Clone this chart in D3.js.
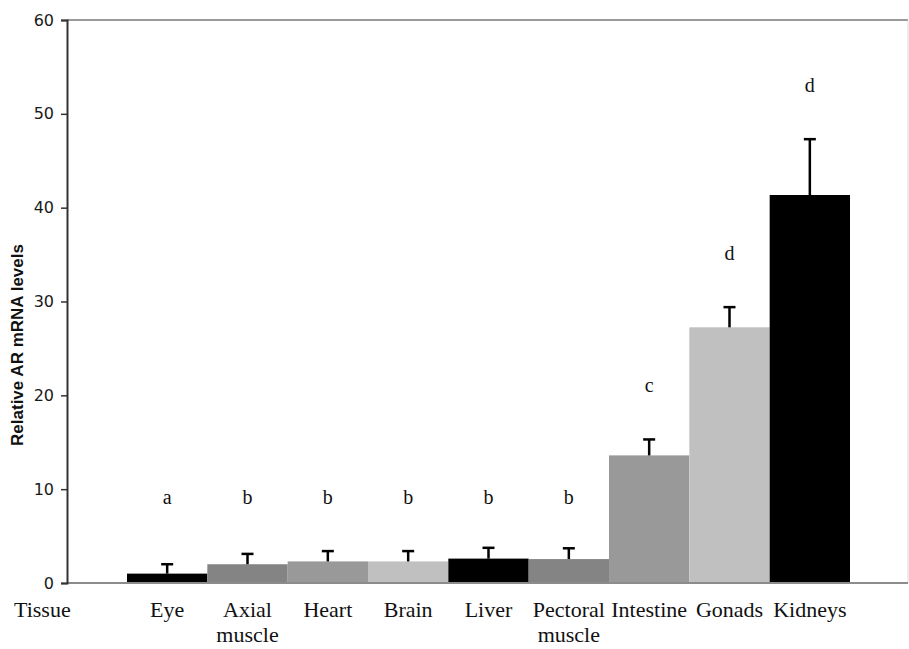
<!DOCTYPE html>
<html>
<head>
<meta charset="utf-8">
<script src="https://cdn.jsdelivr.net/npm/d3@7"></script>
<style>
  body { margin: 0; background: #fff; }
  svg { display: block; }
</style>
</head>
<body>
<div id="chart"></div>
<script>
const tissues = ["Eye", "Axial muscle", "Heart", "Brain", "Liver", "Pectoral muscle", "Intestine", "Gonads", "Kidneys"];
const means = [1.0, 2.0, 2.3, 2.3, 2.6, 2.55, 13.6, 27.25, 41.35];
const upperErr = [2.0, 3.1, 3.4, 3.4, 3.75, 3.7, 15.3, 29.4, 47.3];
const letters = ["a", "b", "b", "b", "b", "b", "c", "d", "d"];
const letterPos = [9, 9, 9, 9, 9, 9, 20.9, 35, 52.9];
const barColors = ["#000000", "#848484", "#999999", "#c0c0c0", "#000000", "#848484", "#999999", "#c0c0c0", "#000000"];
const yTicks = [0, 10, 20, 30, 40, 50, 60];

const width = 909;
const height = 649;
const plot = { left: 67, right: 908, top: 20, bottom: 583 };

let svg = d3.select("#chart").append("svg")
  .attr("width", width)
  .attr("height", height);

let x = d3.scaleBand()
  .domain(tissues)
  .range([127, 850])
  .padding(0);

let y = d3.scaleLinear()
  .domain([0, 60])
  .range([plot.bottom, plot.top]);

// frame: top and right edges are light, bottom is the grey baseline
svg.append("line")
  .attr("x1", plot.left).attr("x2", plot.right)
  .attr("y1", plot.top).attr("y2", plot.top)
  .attr("stroke", "#9a9a9a").attr("stroke-width", 2);
svg.append("line")
  .attr("x1", plot.right).attr("x2", plot.right)
  .attr("y1", plot.top).attr("y2", plot.bottom)
  .attr("stroke", "#d8d8d8").attr("stroke-width", 1);

// bars
svg.selectAll("rect.bar")
  .data(tissues)
  .join("rect")
  .attr("class", "bar")
  .attr("x", d => x(d))
  .attr("width", x.bandwidth())
  .attr("y", (d, i) => y(means[i]))
  .attr("height", (d, i) => y(0) - y(means[i]))
  .attr("fill", (d, i) => barColors[i]);

svg.append("line")
  .attr("x1", plot.left).attr("x2", plot.right)
  .attr("y1", plot.bottom).attr("y2", plot.bottom)
  .attr("stroke", "#8c8c8c").attr("stroke-width", 2);

// error bars, upper side only
let err = svg.append("g").attr("stroke", "#000").attr("stroke-width", 2.5);
tissues.forEach(function(d, i){
  let cx = x(d) + x.bandwidth() / 2;
  err.append("line")
    .attr("x1", cx).attr("x2", cx)
    .attr("y1", y(means[i])).attr("y2", y(upperErr[i]));
  err.append("line")
    .attr("x1", cx - 6).attr("x2", cx + 6)
    .attr("y1", y(upperErr[i])).attr("y2", y(upperErr[i]));
});

// significance letters
svg.selectAll("text.sig")
  .data(letters)
  .join("text")
  .attr("class", "sig")
  .attr("x", (d, i) => x(tissues[i]) + x.bandwidth() / 2)
  .attr("y", (d, i) => y(letterPos[i]) + 5)
  .attr("text-anchor", "middle")
  .style("font-family", "'Liberation Serif', 'Times New Roman', serif")
  .style("font-size", "20px")
  .style("fill", "#111")
  .text(d => d);

// y axis
let yAxis = d3.axisLeft(y).tickValues(yTicks).tickSize(6).tickPadding(7);
let gy = svg.append("g")
  .attr("transform", `translate(${plot.left},0)`)
  .call(yAxis);
gy.select(".domain").attr("stroke", "#333").attr("stroke-width", 2);
gy.selectAll(".tick line").attr("stroke", "#333").attr("stroke-width", 1.5);
gy.selectAll(".tick text")
  .style("font-family", "'DejaVu Sans', Verdana, sans-serif")
  .style("font-size", "16px")
  .style("fill", "#1a1a1a");

svg.append("text")
  .attr("transform", `translate(23,${(242 + 448) / 2}) rotate(-90)`)
  .attr("text-anchor", "middle")
  .style("font-family", "'Liberation Sans', Arial, sans-serif")
  .style("font-weight", "bold")
  .style("font-size", "17px")
  .style("fill", "#111")
  .text("Relative AR mRNA levels");

// category labels, wrapped on the space for the two-word ones
let serif = "'Liberation Serif', 'Times New Roman', serif";
svg.append("text")
  .attr("x", 14)
  .attr("y", 617)
  .style("font-family", serif)
  .style("font-size", "22px")
  .style("fill", "#111")
  .text("Tissue");

let labels = svg.selectAll("text.cat")
  .data(tissues)
  .join("text")
  .attr("class", "cat")
  .attr("text-anchor", "middle")
  .style("font-family", serif)
  .style("font-size", "22px")
  .style("fill", "#111");
labels.each(function(d){
  let words = d.split(" ");
  let cx = x(d) + x.bandwidth() / 2;
  words.forEach(function(w, k){
    d3.select(this).append("tspan")
      .attr("x", cx)
      .attr("y", 617 + k * 25)
      .text(w);
  }, this);
});
</script>
</body>
</html>
